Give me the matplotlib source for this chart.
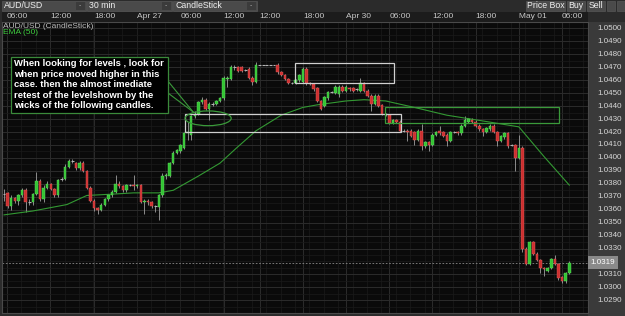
import numpy as np
import matplotlib.pyplot as plt
from matplotlib.patches import Rectangle, Ellipse
from matplotlib import transforms

plt.rcParams['font.family'] = ['Liberation Sans', 'DejaVu Sans']

# AUD/USD 30 min candles
opens = [1.0372, 1.0373, 1.0363, 1.0369, 1.0367, 1.0371, 1.0375, 1.0366, 1.0366, 1.0372,
         1.0382, 1.0368, 1.0377, 1.0380, 1.0376, 1.0371, 1.0384, 1.0384, 1.0393, 1.0398,
         1.0396, 1.0392, 1.0396, 1.0390, 1.0377, 1.0367, 1.0361, 1.0360, 1.0364, 1.0368,
         1.0371, 1.0374, 1.0380, 1.0378, 1.0375, 1.0379, 1.0379, 1.0378, 1.0379, 1.0366,
         1.0367, 1.0366, 1.0363, 1.0362, 1.0371, 1.0386, 1.0386, 1.0396, 1.0404, 1.0405,
         1.0408, 1.0419, 1.0418, 1.0432, 1.0434, 1.0443, 1.0445, 1.0438, 1.0442, 1.0442,
         1.0444, 1.0446, 1.0461, 1.0461, 1.0470, 1.0470, 1.0470, 1.0468, 1.0469, 1.0462,
         1.0459, 1.0472, 1.0472, 1.0472, 1.0472, 1.0472, 1.0472, 1.0466, 1.0464, 1.0461,
         1.0458, 1.0458, 1.0460, 1.0459, 1.0469, 1.0458, 1.0457, 1.0454, 1.0444, 1.0440,
         1.0446, 1.0451, 1.0450, 1.0449, 1.0455, 1.0452, 1.0454, 1.0454, 1.0453, 1.0452,
         1.0458, 1.0452, 1.0448, 1.0442, 1.0448, 1.0441, 1.0434, 1.0433, 1.0427, 1.0429,
         1.0428, 1.0421, 1.0421, 1.0421, 1.0420, 1.0414, 1.0421, 1.0409, 1.0412, 1.0410,
         1.0418, 1.0421, 1.0420, 1.0418, 1.0413, 1.0420, 1.0420, 1.0419, 1.0425, 1.0428,
         1.0429, 1.0428, 1.0425, 1.0422, 1.0420, 1.0422, 1.0425, 1.0420, 1.0413, 1.0416,
         1.0419, 1.0410, 1.0410, 1.0400, 1.0408, 1.0330, 1.0318, 1.0335, 1.0326, 1.0321,
         1.0315, 1.0313, 1.0315, 1.0322, 1.0318, 1.0308, 1.0305, 1.0311]
highs = [1.0376, 1.0374, 1.0371, 1.0370, 1.0372, 1.0377, 1.0377, 1.0368, 1.0373, 1.0389,
         1.0384, 1.0379, 1.0382, 1.0381, 1.0377, 1.0384, 1.0385, 1.0395, 1.0399, 1.0399,
         1.0397, 1.0398, 1.0398, 1.0391, 1.0378, 1.0368, 1.0362, 1.0365, 1.0369, 1.0372,
         1.0375, 1.0387, 1.0382, 1.0379, 1.0380, 1.0380, 1.0387, 1.0380, 1.0380, 1.0368,
         1.0368, 1.0367, 1.0364, 1.0372, 1.0388, 1.0388, 1.0397, 1.0405, 1.0407, 1.0411,
         1.0420, 1.0428, 1.0433, 1.0436, 1.0444, 1.0447, 1.0446, 1.0443, 1.0443, 1.0445,
         1.0447, 1.0463, 1.0463, 1.0472, 1.0472, 1.0471, 1.0471, 1.0469, 1.0470, 1.0463,
         1.0474, 1.0472, 1.0472, 1.0472, 1.0472, 1.0472, 1.0473, 1.0467, 1.0465, 1.0462,
         1.0459, 1.0461, 1.0465, 1.0470, 1.0470, 1.0459, 1.0458, 1.0455, 1.0445, 1.0448,
         1.0452, 1.0452, 1.0456, 1.0456, 1.0456, 1.0456, 1.0455, 1.0455, 1.0454, 1.0462,
         1.0459, 1.0453, 1.0449, 1.0449, 1.0449, 1.0442, 1.0435, 1.0434, 1.0430, 1.0430,
         1.0429, 1.0422, 1.0422, 1.0422, 1.0421, 1.0422, 1.0426, 1.0413, 1.0413, 1.0419,
         1.0421, 1.0425, 1.0421, 1.0419, 1.0421, 1.0421, 1.0421, 1.0426, 1.0432, 1.0431,
         1.0431, 1.0429, 1.0426, 1.0423, 1.0424, 1.0426, 1.0426, 1.0421, 1.0418, 1.0420,
         1.0420, 1.0411, 1.0411, 1.0418, 1.0409, 1.0331, 1.0336, 1.0336, 1.0327, 1.0322,
         1.0316, 1.0316, 1.0323, 1.0325, 1.0319, 1.0309, 1.0312, 1.0320]
lows = [1.0367, 1.0361, 1.0360, 1.0365, 1.0364, 1.0370, 1.0358, 1.0364, 1.0364, 1.0371,
        1.0367, 1.0366, 1.0376, 1.0375, 1.0370, 1.0370, 1.0382, 1.0383, 1.0392, 1.0396,
        1.0391, 1.0391, 1.0389, 1.0376, 1.0366, 1.0359, 1.0357, 1.0359, 1.0363, 1.0367,
        1.0370, 1.0373, 1.0377, 1.0374, 1.0374, 1.0378, 1.0375, 1.0377, 1.0365, 1.0357,
        1.0364, 1.0361, 1.0358, 1.0352, 1.0370, 1.0384, 1.0385, 1.0395, 1.0403, 1.0404,
        1.0407, 1.0414, 1.0414, 1.0431, 1.0433, 1.0442, 1.0437, 1.0429, 1.0440, 1.0441,
        1.0443, 1.0445, 1.0455, 1.0460, 1.0468, 1.0466, 1.0466, 1.0467, 1.0461, 1.0456,
        1.0458, 1.0472, 1.0472, 1.0472, 1.0472, 1.0472, 1.0465, 1.0463, 1.0460, 1.0457,
        1.0457, 1.0457, 1.0459, 1.0458, 1.0456, 1.0456, 1.0452, 1.0443, 1.0437, 1.0439,
        1.0445, 1.0450, 1.0449, 1.0447, 1.0451, 1.0451, 1.0452, 1.0451, 1.0452, 1.0451,
        1.0451, 1.0447, 1.0436, 1.0441, 1.0439, 1.0433, 1.0432, 1.0426, 1.0426, 1.0427,
        1.0420, 1.0420, 1.0413, 1.0416, 1.0410, 1.0413, 1.0406, 1.0408, 1.0405, 1.0409,
        1.0417, 1.0418, 1.0416, 1.0409, 1.0412, 1.0419, 1.0418, 1.0418, 1.0424, 1.0427,
        1.0427, 1.0424, 1.0421, 1.0417, 1.0419, 1.0421, 1.0419, 1.0409, 1.0412, 1.0415,
        1.0408, 1.0409, 1.0390, 1.0399, 1.0327, 1.0317, 1.0317, 1.0325, 1.0320, 1.0311,
        1.0309, 1.0312, 1.0314, 1.0317, 1.0306, 1.0303, 1.0303, 1.0310]
closes = [1.0372, 1.0363, 1.0369, 1.0367, 1.0371, 1.0375, 1.0366, 1.0366, 1.0372, 1.0382,
          1.0368, 1.0377, 1.0380, 1.0376, 1.0371, 1.0383, 1.0384, 1.0393, 1.0398, 1.0398,
          1.0392, 1.0396, 1.0390, 1.0377, 1.0367, 1.0361, 1.0360, 1.0364, 1.0368, 1.0371,
          1.0374, 1.0380, 1.0378, 1.0375, 1.0379, 1.0379, 1.0378, 1.0379, 1.0366, 1.0367,
          1.0366, 1.0363, 1.0363, 1.0371, 1.0386, 1.0387, 1.0396, 1.0404, 1.0406, 1.0410,
          1.0419, 1.0420, 1.0432, 1.0434, 1.0443, 1.0445, 1.0438, 1.0442, 1.0442, 1.0444,
          1.0446, 1.0462, 1.0462, 1.0470, 1.0470, 1.0467, 1.0467, 1.0468, 1.0462, 1.0459,
          1.0472, 1.0472, 1.0472, 1.0472, 1.0472, 1.0472, 1.0466, 1.0464, 1.0461, 1.0458,
          1.0458, 1.0460, 1.0464, 1.0469, 1.0458, 1.0457, 1.0453, 1.0444, 1.0438, 1.0447,
          1.0451, 1.0451, 1.0455, 1.0455, 1.0452, 1.0455, 1.0453, 1.0452, 1.0453, 1.0458,
          1.0452, 1.0448, 1.0442, 1.0448, 1.0440, 1.0434, 1.0434, 1.0427, 1.0429, 1.0428,
          1.0421, 1.0421, 1.0420, 1.0417, 1.0414, 1.0421, 1.0409, 1.0412, 1.0410, 1.0418,
          1.0420, 1.0419, 1.0417, 1.0413, 1.0420, 1.0420, 1.0419, 1.0425, 1.0429, 1.0430,
          1.0428, 1.0425, 1.0422, 1.0420, 1.0423, 1.0425, 1.0420, 1.0413, 1.0417, 1.0419,
          1.0409, 1.0410, 1.0400, 1.0408, 1.0330, 1.0318, 1.0335, 1.0326, 1.0321, 1.0315,
          1.0314, 1.0315, 1.0322, 1.0318, 1.0307, 1.0305, 1.0311, 1.0319]

# EMA(50) as drawn on the chart (candle index, value)
ema_idx = [0, 8, 17.5, 23, 30, 36, 43, 47, 54, 60, 64.7, 70, 77, 83, 87, 95, 100, 106, 114, 123, 132, 143, 150, 157]
ema_val = [1.0356, 1.0359, 1.0364, 1.0371, 1.0372, 1.0373, 1.0373, 1.0375, 1.0386, 1.0396, 1.0408, 1.0421,
           1.0433, 1.0439, 1.0441, 1.0444, 1.0445, 1.0444, 1.0439, 1.0433, 1.0429, 1.0424, 1.0401, 1.0379]

time_labels = ['06:00', '12:00', '18:00', 'Apr 27', '06:00', '12:00', '12:00', '18:00',
               'Apr 30', '06:00', '12:00', '18:00', 'May 01', '06:00']
time_idx = [0.8, 12.8, 25, 37, 49, 61, 71, 83, 95, 107, 119, 131, 143, 155]
price_ticks = [1.0290, 1.0300, 1.0310, 1.0330, 1.0340, 1.0350, 1.0360, 1.0370, 1.0380, 1.0390,
               1.0400, 1.0410, 1.0420, 1.0430, 1.0440, 1.0450, 1.0460, 1.0470, 1.0480, 1.0490, 1.0500]
last_price = 1.0319

note = ("When looking for levels , look for\nwhen price moved higher in this\n"
        "case. then the almost imediate\nretest of the levelshown by the\n"
        "wicks of the following candles.")

W, H = 625, 316


def px_box(x0, y0, x1, y1):
    return [x0 / W, 1 - y1 / H, (x1 - x0) / W, (y1 - y0) / H]


fig = plt.figure(figsize=(W / 100, H / 100), dpi=100)
fig.patch.set_facecolor('#2b2b2b')
# price scale background, kept under the axes
fig.patches.append(Rectangle((588 / W, 0), 37 / W, 1 - 22 / H, transform=fig.transFigure,
                             facecolor='#3a3a3a', edgecolor='none', zorder=-5))

ax = fig.add_axes(px_box(2, 22, 588, 313))
ax.set_facecolor('#0a0a0a')
ax.set_xlim(-0.56, 162.2)
ax.set_ylim(1.02802, 1.05008)

# grid
ax.set_xticks(time_idx)
ax.set_xticks(np.arange(0.8, 162, 4), minor=True)
ax.set_yticks(price_ticks)
ax.set_yticks(np.arange(1.0285, 1.0505, 0.0005), minor=True)
ax.grid(True, which='major', color='#2c2c2c', lw=0.7)
ax.grid(True, which='minor', color='#1a1a1a', lw=0.5)
ax.set_axisbelow(True)
ax.tick_params(axis='x', which='both', length=0, labelbottom=False)
ax.yaxis.tick_right()
ax.tick_params(axis='y', which='both', length=0, pad=7, labelsize=5.8, labelcolor='#d8d8d8')
ax.set_yticklabels(['%.4f' % t for t in price_ticks])
for lab in ax.get_yticklabels():
    lab.set_verticalalignment('center')
for s in ax.spines.values():
    s.set_color('#4a4a4a')
    s.set_linewidth(0.8)

# candles
o = np.array(opens)
h = np.array(highs)
l = np.array(lows)
c = np.array(closes)
x = np.arange(len(o))
up = c > o
dn = c < o
flat = c == o
ax.vlines(x, l, h, color='#a0a0a0', lw=0.6, zorder=2)
ax.bar(x[up], np.maximum(c - o, 0.00008)[up], bottom=o[up], width=0.7,
       color='#33c433', edgecolor='#66e066', lw=0.3, zorder=3)
ax.bar(x[dn], np.maximum(o - c, 0.00008)[dn], bottom=c[dn], width=0.7,
       color='#cc2f2f', edgecolor='#e86060', lw=0.3, zorder=3)
ax.hlines(c[flat], x[flat] - 0.4, x[flat] + 0.4, color='#b4b4b4', lw=0.8, zorder=3)

# EMA(50)
ax.plot(ema_idx, ema_val, color='#339933', lw=0.8, zorder=2)

# last price
ax.axhline(last_price, color='#8a8a8a', lw=0.6, ls=(0, (2, 2)), zorder=1)
ax.text(1.004, last_price, '%.4f' % last_price,
        transform=transforms.blended_transform_factory(ax.transAxes, ax.transData),
        ha='left', va='center', fontsize=5.8, color='white', clip_on=False, zorder=6,
        bbox=dict(boxstyle='square,pad=0.35', fc='#8a8a8a', ec='none'))

# drawings on the chart
ax.add_patch(Rectangle((50.3, 1.0420), 60, 0.0014, fill=False, ec='#d0d0d0', lw=0.9, zorder=4))
ax.add_patch(Rectangle((80.8, 1.0458), 27.5, 0.0015, fill=False, ec='#d0d0d0', lw=0.9, zorder=4))
ax.add_patch(Rectangle((105.8, 1.0427), 48.4, 0.0012, fill=False, ec='#3a9a3a', lw=0.9, zorder=4))
ax.add_patch(Ellipse((56.7, 1.04306), 12.8, 0.00114, fill=False, ec='#3a9a3a', lw=0.9, zorder=4))
ax.plot([45.6, 52.5], [1.04591, 1.04356], color='#3a9a3a', lw=0.8, zorder=4)
ax.plot([45.6, 52.5], [1.04500, 1.04356], color='#3a9a3a', lw=0.8, zorder=4)
ax.add_patch(Rectangle((1.9, 1.04348), 43.7, 0.00432, fc='#000000', ec='#3a8a3a', lw=0.9, zorder=5))
ax.text(2.9, 1.04762, note, ha='left', va='top', fontsize=6.8, fontweight='bold',
        color='white', linespacing=1.22, zorder=6)

fig.text(3 / W, 1 - 27 / H, 'AUD/USD (CandleStick)', fontsize=6, color='#bdbdbd', va='center')
fig.text(3 / W, 1 - 33 / H, 'EMA (50)', fontsize=6, color='#3fcf3f', va='center')

# header: toolbar and time scale
hdr = fig.add_axes([0, 1 - 22 / H, 1, 22 / H])
hdr.set_zorder(5)
hdr.set_xlim(0, W)
hdr.set_ylim(22, 0)
hdr.axis('off')
hdr.add_patch(Rectangle((0, 0), W, 22, fc='#2b2b2b', ec='none'))
hdr.add_patch(Rectangle((2, 11.5), 586, 10.5, fc='#1c1c1c', ec='none'))
for x0, x1, lab in [(2, 86, 'AUD/USD'), (87, 172, '30 min'), (173, 257, 'CandleStick')]:
    hdr.add_patch(Rectangle((x0, 1), x1 - x0, 9.5, fc='#4a4a4a', ec='#575757', lw=0.5))
    hdr.add_patch(Rectangle((x1 - 10, 2), 8.5, 7.5, fc='#3b3b3b', ec='none'))
    hdr.text(x0 + 2, 6, lab, fontsize=6.3, color='#f0f0f0', va='center', ha='left')
    hdr.text(x1 - 5.8, 6, '-', fontsize=5, color='#aaaaaa', va='center', ha='center')
for x0, x1, lab in [(526, 565, 'Price Box'), (567, 585, 'Buy'), (587, 605, 'Sell'), (607, 615, ''), (617, 625, '')]:
    hdr.add_patch(Rectangle((x0, 1), x1 - x0, 9.5, fc='#4a4a4a', ec='#575757', lw=0.5))
    hdr.text((x0 + x1) / 2, 6, lab, fontsize=6.3, color='#f0f0f0', va='center', ha='center')
ttr = transforms.blended_transform_factory(ax.transData, hdr.transData)
for xi, lab in zip(time_idx, time_labels):
    hdr.text(xi, 17, lab, transform=ttr, fontsize=6, color='#c8c8c8', va='center', ha='left')

fig.savefig('out.png', dpi=100, facecolor=fig.get_facecolor())
